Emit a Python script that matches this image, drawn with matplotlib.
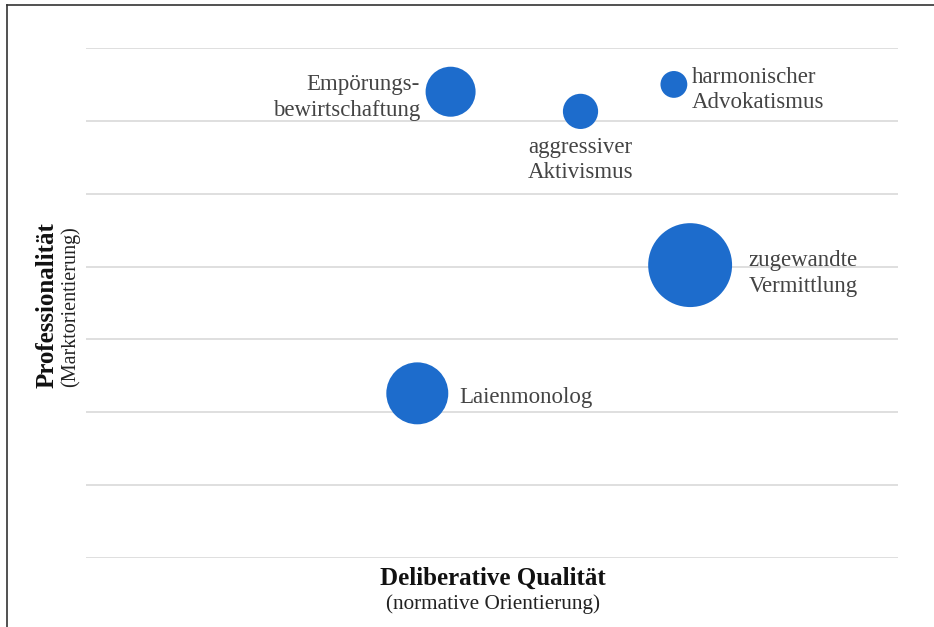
import matplotlib
matplotlib.use("Agg")
import matplotlib.pyplot as plt
from matplotlib.lines import Line2D
import numpy as np

labels = ["Empörungs-\nbewirtschaftung", "aggressiver\nAktivismus", "harmonischer\nAdvokatismus",
          "zugewandte\nVermittlung", "Laienmonolog"]
x_vals = [4.49, 6.09, 7.24, 7.44, 4.08]
y_vals = [6.40, 6.13, 6.50, 4.02, 2.26]
sizes = [625, 310, 180, 1760, 960]   # relative bubble areas

label_offsets = [(-22, -4), (0, -35), (13, -4), (42, -6), (30, -3)]
label_ha = ["right", "center", "left", "left", "left"]

plt.rcParams['font.family'] = ['Liberation Serif', 'DejaVu Serif']

fig = plt.figure(figsize=(9.34, 6.27), dpi=100)
W, H = 934, 627
ax = fig.add_axes([86 / W, 1 - 558 / H, (898 - 86) / W, (558 - 48) / H])

# relative area -> marker size (points^2)
s = [(2 * v ** 0.5 * 0.72) ** 2 for v in sizes]
ax.scatter(x_vals, y_vals, s=s, color="#1d6ccc", zorder=3, linewidths=0)

for lab, x, y, off, ha in zip(labels, x_vals, y_vals, label_offsets, label_ha):
    ax.annotate(lab, (x, y), xytext=off, textcoords="offset points", ha=ha, va="center",
                fontsize=16.5, color="#444444", linespacing=1.3)

ax.set_xlim(0, 10)
ax.set_ylim(0, 7)
ax.set_yticks(np.arange(0, 8, 1))
ax.set_xticks([])
ax.tick_params(left=False, labelleft=False)
ax.grid(axis="y", color="#d9d9d9", linewidth=1.2)
for sp in ax.spines.values():
    sp.set_visible(False)

fig.text(493 / W, 1 - 578 / H, "Deliberative Qualität", ha="center", va="center",
         fontsize=18, fontweight="bold", color="#111111")
fig.text(493 / W, 1 - 604 / H, "(normative Orientierung)", ha="center", va="center",
         fontsize=15.3, color="#222222")
fig.text(47 / W, 1 - 305 / H, "Professionalität", ha="center", va="center", rotation=90,
         fontsize=18, fontweight="bold", color="#111111")
fig.text(70 / W, 1 - 307 / H, "(Marktorientierung)", ha="center", va="center", rotation=90,
         fontsize=14.5, color="#222222")

fig.add_artist(Line2D([7 / W, 7 / W], [0, 1 - 5 / H], transform=fig.transFigure, color="#333333", linewidth=1.2))
fig.add_artist(Line2D([7 / W, 1], [1 - 5 / H, 1 - 5 / H], transform=fig.transFigure, color="#333333", linewidth=1.2))

fig.savefig("out.png", dpi=100)
